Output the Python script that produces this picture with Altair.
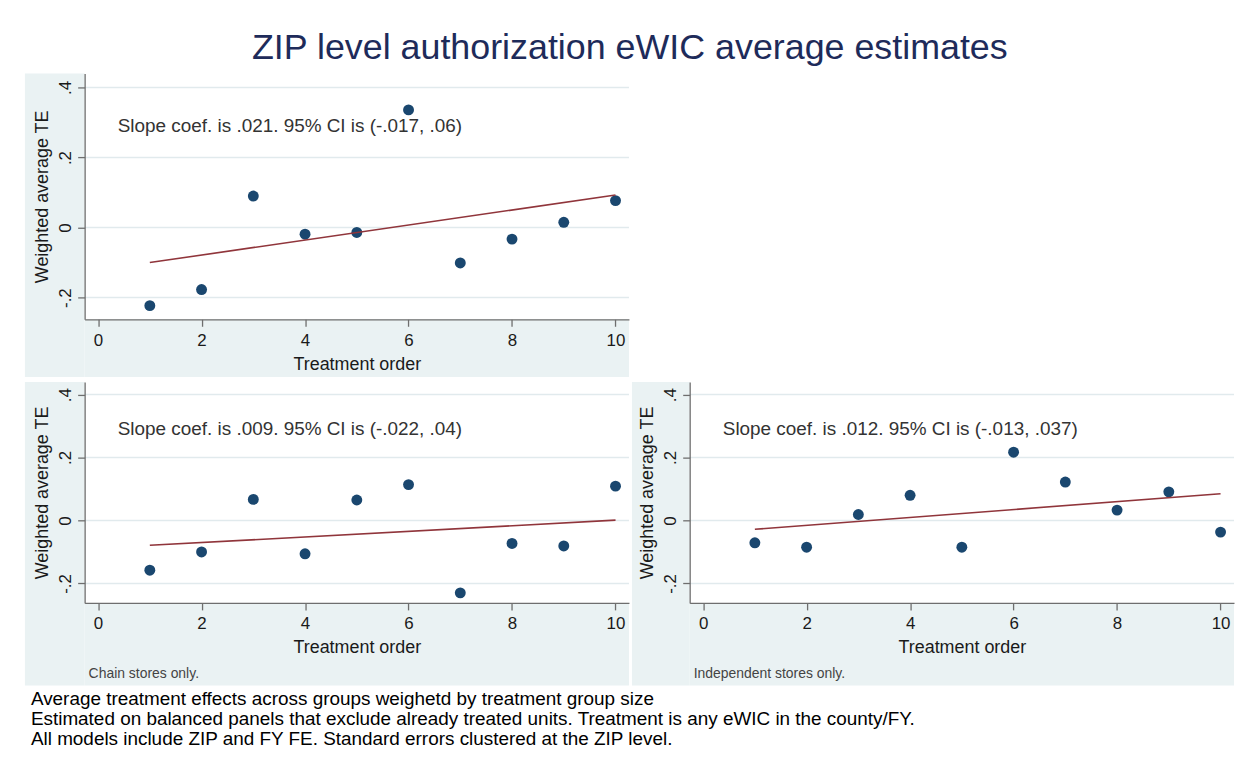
import altair as alt
import pandas as pd

# ---------------- data ----------------
TITLE = "ZIP level authorization eWIC average estimates"
X_TITLE = "Treatment order"
Y_TITLE = "Weighted average TE"

ORDER = [1, 2, 3, 4, 5, 6, 7, 8, 9, 10]
TE_ALL = [-0.223, -0.177, 0.090, -0.019, -0.014, 0.336, -0.101, -0.033, 0.015, 0.077]
TE_CHAIN = [-0.158, -0.100, 0.067, -0.106, 0.065, 0.114, -0.230, -0.073, -0.081, 0.109]
TE_INDEP = [-0.071, -0.085, 0.019, 0.080, -0.085, 0.217, 0.122, 0.033, 0.091, -0.037]

FIT_X = [1, 10]
FIT_ALL = [-0.100, 0.093]
FIT_CHAIN = [-0.079, 0.001]
FIT_INDEP = [-0.028, 0.085]

SLOPE_TEXT = [
    "Slope coef. is .021. 95% CI is (-.017, .06)",
    "Slope coef. is .009. 95% CI is (-.022, .04)",
    "Slope coef. is .012. 95% CI is (-.013, .037)",
]
TEXT_X = [0.38]
TEXT_Y = [0.29]

PANEL_NOTES = ["", "Chain stores only.", "Independent stores only."]

FOOTNOTES = [
    "Average treatment effects across groups weighetd by treatment group size",
    "Estimated on balanced panels that exclude already treated units. Treatment is any eWIC in the county/FY.",
    "All models include ZIP and FY FE. Standard errors clustered at the ZIP level.",
]

X_TICKS = [0, 2, 4, 6, 8, 10]
Y_TICKS = [-0.2, 0, 0.2, 0.4]
X_DOMAIN = [-0.26, 10.26]
Y_DOMAIN = [-0.262, 0.44]

# ---------------- style ----------------
FONT = "Liberation Sans"
BG = "#eaf2f3"
GRID = "#e1eaed"
NAVY = "#1a476f"
MAROON = "#90353b"
AXIS_GRAY = "#6e6e6e"
TXT = "#1a1a1a"
PW = 547

Y_LABEL_EXPR = (
    "datum.value == 0 ? '0' : (datum.value < 0 ? '-' : '') + "
    "replace(format(abs(datum.value), '.1f'), '0.', '.')"
)


def panel(te, fit, slope_text, note, height, left_ext, bottom_ext):
    pts = pd.DataFrame({"order": ORDER, "te": te})
    fitdf = pd.DataFrame({"order": FIT_X, "te": fit})
    txt = pd.DataFrame({"order": TEXT_X, "te": TEXT_Y, "label": [slope_text]})
    grid = pd.DataFrame({"te": Y_TICKS})
    one = pd.DataFrame({"k": [0]})

    x = alt.X(
        "order:Q",
        scale=alt.Scale(domain=X_DOMAIN, nice=False, zero=False),
        axis=alt.Axis(
            values=X_TICKS, format="d", grid=False, title=X_TITLE, zindex=1,
            domainColor=AXIS_GRAY, domainWidth=1.3, tickColor=AXIS_GRAY,
            tickWidth=1.3, tickSize=7, labelFont=FONT, labelFontSize=17,
            labelColor=TXT, labelPadding=6, titleFont=FONT, titleFontSize=18,
            titleFontWeight="normal", titleColor=TXT, titlePadding=7,
            labelFlush=False,
        ),
    )
    y = alt.Y(
        "te:Q",
        scale=alt.Scale(domain=Y_DOMAIN, nice=False, zero=False),
        axis=alt.Axis(
            values=Y_TICKS, labelExpr=Y_LABEL_EXPR, grid=False, zindex=1,
            title=Y_TITLE, domainColor=AXIS_GRAY,
            domainWidth=1.3, tickColor=AXIS_GRAY, tickWidth=1.3, tickSize=7,
            labelFont=FONT, labelFontSize=17, labelColor=TXT, labelAngle=270,
            labelAlign="center", labelBaseline="alphabetic", labelPadding=7,
            labelFlush=False, titleFont=FONT, titleFontSize=18,
            titleFontWeight="normal", titleColor=TXT, titlePadding=5,
        ),
    )

    bg_left = alt.Chart(one).mark_rect(color=BG).encode(
        x=alt.value(-left_ext), x2=alt.value(0),
        y=alt.value(0), y2=alt.value(height + bottom_ext),
    )
    bg_bottom = alt.Chart(one).mark_rect(color=BG).encode(
        x=alt.value(0), x2=alt.value(PW),
        y=alt.value(height), y2=alt.value(height + bottom_ext),
    )
    grid_lines = alt.Chart(grid).mark_rule(color=GRID, strokeWidth=1.5).encode(y=y)
    fit_line = alt.Chart(fitdf).mark_line(color=MAROON, strokeWidth=1.6).encode(x=x, y=y)
    dots = alt.Chart(pts).mark_circle(color=NAVY, opacity=1, size=120).encode(x=x, y=y)
    label = alt.Chart(txt).mark_text(
        font=FONT, fontSize=19, color="#333333", align="left", baseline="middle"
    ).encode(x=x, y=y, text="label:N")

    layers = [bg_left, bg_bottom, grid_lines, dots, fit_line, label]
    if note:
        note_df = pd.DataFrame({"label": [note]})
        layers.append(
            alt.Chart(note_df).mark_text(
                font=FONT, fontSize=14, color="#444444", align="left", baseline="middle"
            ).encode(x=alt.value(4), y=alt.value(height + 71), text="label:N")
        )
    return alt.layer(*layers).properties(width=PW, height=height)


p1 = panel(TE_ALL, FIT_ALL, SLOPE_TEXT[0], PANEL_NOTES[0], 247, 60, 58)
p2 = panel(TE_CHAIN, FIT_CHAIN, SLOPE_TEXT[1], PANEL_NOTES[1], 222, 60, 83)
p3 = panel(TE_INDEP, FIT_INDEP, SLOPE_TEXT[2], PANEL_NOTES[2], 222, 58, 83)

foot_df = pd.DataFrame({"i": [0, 1, 2], "label": FOOTNOTES})
foot_bg = alt.Chart(pd.DataFrame({"k": [0]})).mark_rect(color="white").encode(
    x=alt.value(-60), x2=alt.value(1150), y=alt.value(0), y2=alt.value(60)
)
foot_text = alt.Chart(foot_df).mark_text(
    font=FONT, fontSize=19, color="#000000", align="left", baseline="middle"
).encode(
    x=alt.value(-54),
    y=alt.Y("i:Q", scale=alt.Scale(domain=[-0.35, 2.65], reverse=True), axis=None),
    text="label:N",
)
footer = alt.layer(foot_bg, foot_text).properties(width=1150, height=60)

chart = alt.vconcat(
    p1,
    alt.hconcat(p2, p3, spacing=0),
    footer,
    spacing=3,
).properties(
    title=alt.TitleParams(
        text=TITLE, font=FONT, fontSize=36, fontWeight="normal",
        color="#1e2b5a", anchor="middle", offset=6,
    ),
    padding={"left": 16, "top": 20, "right": 0, "bottom": 0},
    background="white",
).configure_view(stroke="transparent")

chart.save("out.html", embed_options={"renderer": "svg", "actions": False})
